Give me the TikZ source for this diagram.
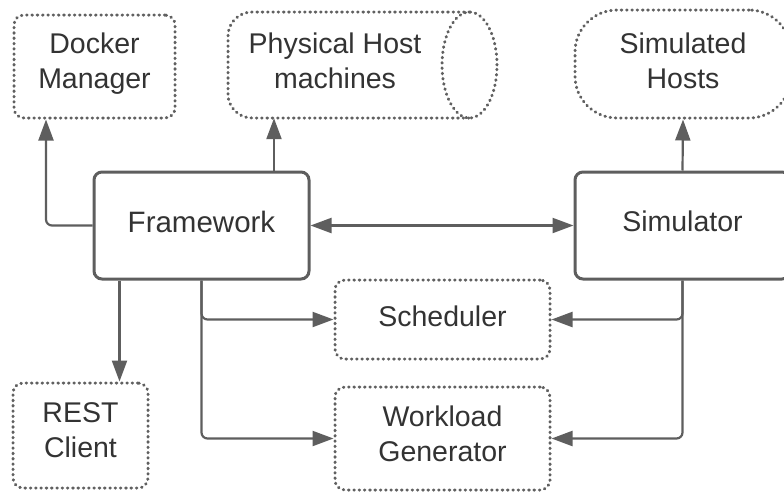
\documentclass[tikz,border=0pt]{standalone}
\usepackage{fontspec}
\setmainfont{Liberation Sans}
\usetikzlibrary{arrows.meta}
\definecolor{edge}{HTML}{5E5E5E}
\definecolor{dots}{HTML}{606060}
\definecolor{ink}{HTML}{333333}
\tikzset{
  txt/.style={text=ink, align=center, font=\fontsize{28.5}{35}\selectfont, inner sep=0pt},
  mainbox/.style={draw=edge, line width=3pt, rounded corners=8pt, inner sep=0pt},
  dotline/.style={draw=dots, line width=3pt, line cap=round, dash pattern=on 0.6pt off 4.7pt},
  dotbox/.style={dotline, rounded corners=10pt, inner sep=0pt},
  conn/.style={draw=edge, line width=2.2pt, rounded corners=6pt,
    -{Triangle[length=21pt,width=15pt]}},
  both/.style={conn, {Triangle[length=21pt,width=15pt]}-{Triangle[length=21pt,width=15pt]}}
}
\begin{document}
\begin{tikzpicture}[x=1pt,y=-1pt]
\clip (0,0) rectangle (784,493);
\fill[white] (0,0) rectangle (784,493);

% top row
\node[dotbox, minimum width=161pt, minimum height=103pt] (docker) at (94.5,66.5) {};
\draw[dotline, rounded corners=24pt] (469.5,12) -- (228,12) -- (228,118) -- (469.5,118);
\draw[dotline] (469.5,65) ellipse [x radius=27.5pt, y radius=53pt];
\node[minimum width=269pt, minimum height=106pt, inner sep=0pt] (phys) at (362.5,65) {};
\node[dotbox, rounded corners=42pt, minimum width=216pt, minimum height=108pt] (simhosts) at (683,64) {};

% main components
\node[mainbox, minimum width=215pt, minimum height=107pt] (framework) at (201.5,225.5) {};
\node[mainbox, minimum width=215pt, minimum height=107pt] (simulator) at (682.5,225.5) {};

% lower row
\node[dotbox, minimum width=215pt, minimum height=79pt] (scheduler) at (442.5,319.5) {};
\node[dotbox, minimum width=215pt, minimum height=103pt] (workload) at (442.5,438.5) {};
\node[dotbox, minimum width=135pt, minimum height=105pt] (rest) at (80.5,435.5) {};

% labels
\node[txt] (docker-t) at ([yshift=3pt]docker.center) {Docker\\Manager};
\node[txt] (phys-t) at (335,61) {Physical Host\\machines};
\node[txt] (simhosts-t) at ([yshift=3pt]simhosts.center) {Simulated\\Hosts};
\node[txt, font=\fontsize{29.5}{35}\selectfont] (framework-t) at ([yshift=4pt]framework.center) {Framework};
\node[txt] (simulator-t) at ([yshift=4pt]simulator.center) {Simulator};
\node[txt] (scheduler-t) at ([yshift=3pt]scheduler.center) {Scheduler};
\node[txt] (workload-t) at ([yshift=5pt]workload.center) {Workload\\Generator};
\node[txt] (rest-t) at ([yshift=5pt]rest.center) {REST\\Client};

% connectors
\draw[conn] (framework.west) -| ([xshift=-48.5pt]docker.south);
\draw[conn] ([xshift=72.5pt]framework.north) -- ([xshift=72.5pt]framework.north |- phys.south);
\draw[both] (framework.east) -- (simulator.west);
\draw[conn] (simulator.north) -- (simhosts.south);
\draw[conn] ([xshift=-82pt]framework.south) -- ([xshift=-82pt]framework.south |- rest.north);
\draw[conn] (framework.south) |- (scheduler.west);
\draw[conn] (framework.south) |- (workload.west);
\draw[conn] (simulator.south) |- (scheduler.east);
\draw[conn] (simulator.south) |- (workload.east);
\end{tikzpicture}
\end{document}
